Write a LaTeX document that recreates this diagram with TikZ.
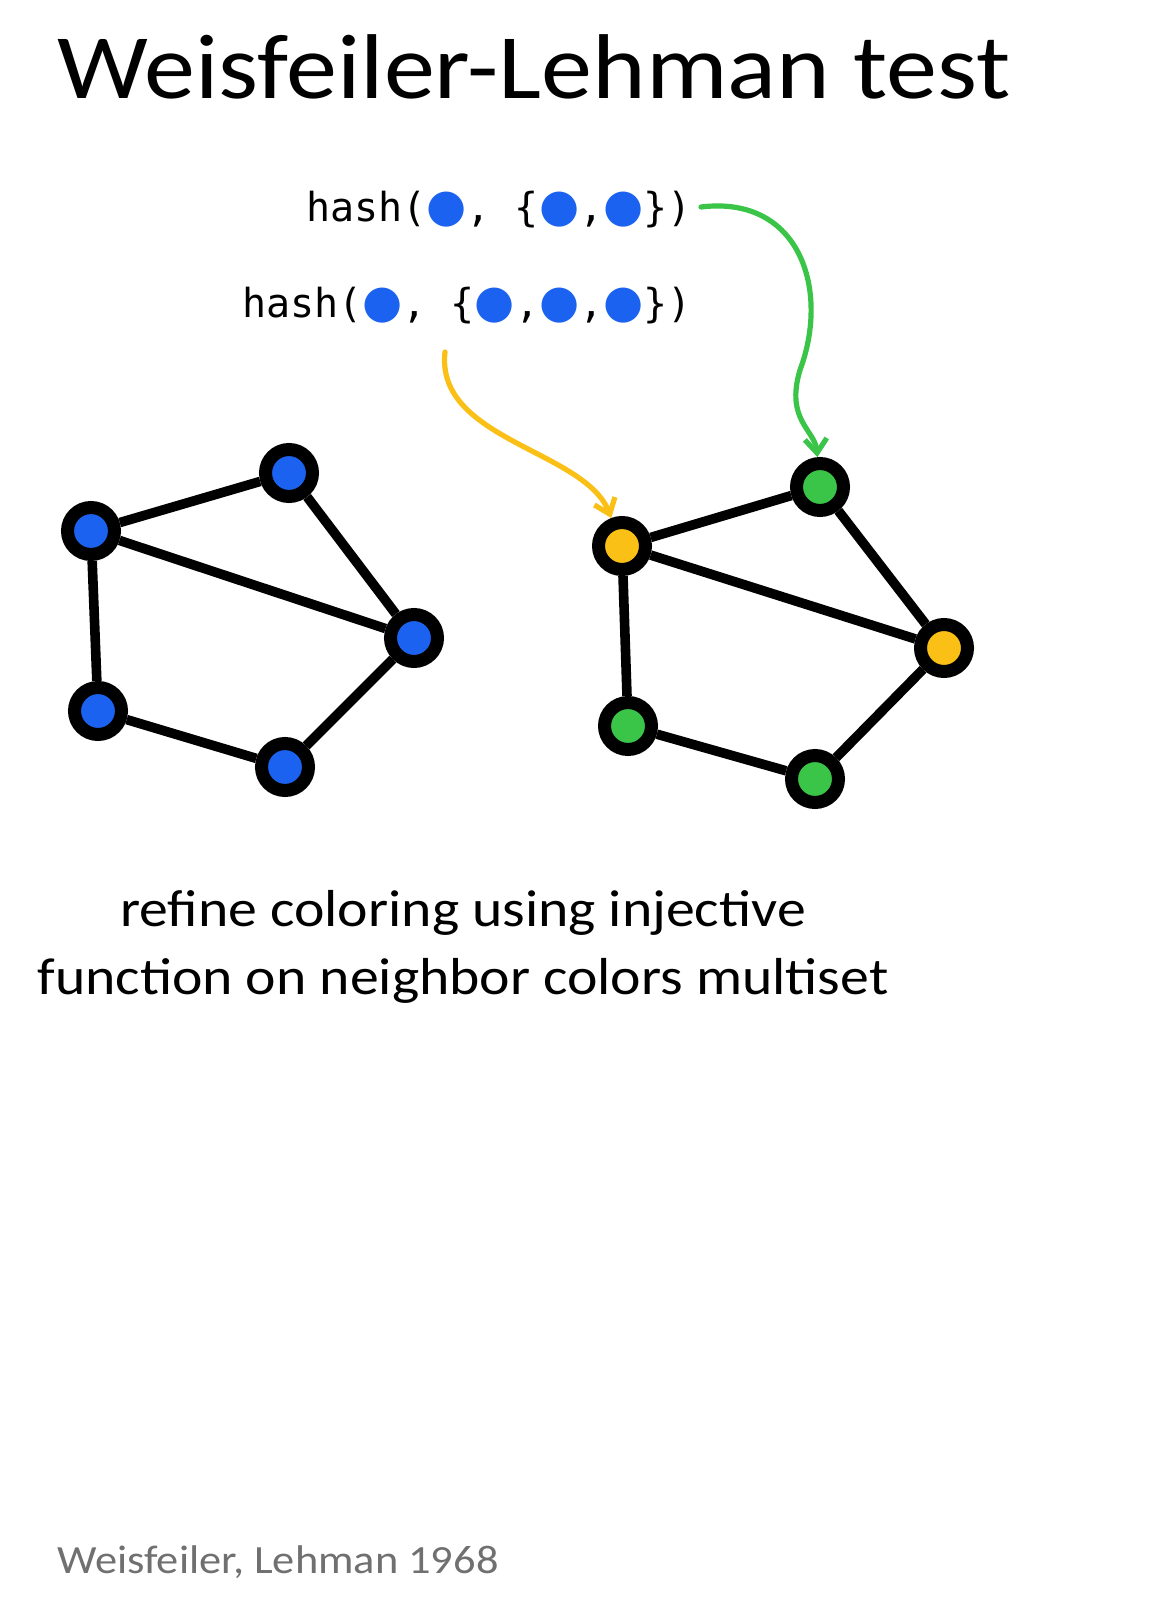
\documentclass[tikz,border=0pt]{standalone}
\usepackage{fontspec}
\setmainfont[FakeStretch=1.11]{Carlito}
\newfontfamily\handfont{DejaVu Sans Mono}
\newfontfamily\symfont{DejaVu Sans}
\usetikzlibrary{arrows.meta}
\definecolor{wlBlue}{RGB}{28,98,240}
\definecolor{wlGreen}{RGB}{58,196,72}
\definecolor{wlYellow}{RGB}{250,192,22}
\definecolor{wlGray}{RGB}{112,112,112}
\newcommand{\bdot}{{\symfont\fontsize{23}{23}\selectfont\textcolor{wlBlue}{●}}}

\begin{document}
\begin{tikzpicture}[
    x=0.5pt, y=-0.5pt,
    vtx/.style={circle, draw=black, line width=6.5pt, minimum size=23.5pt, inner sep=0pt},
    bv/.style={vtx, fill=wlBlue},
    gv/.style={vtx, fill=wlGreen},
    yv/.style={vtx, fill=wlYellow},
    edge/.style={line width=4.8pt},
    harr/.style={-{Straight Barb[length=7pt, width=11pt]}, line width=2.6pt, line cap=round},
  ]
    \useasboundingbox[fill=white] (0,0) rectangle (1162,1598);

    % title
    \node[anchor=base west, inner sep=0pt, font=\fontsize{46}{50}\selectfont] (title) at (57,99) {Weisfeiler-Lehman test};

    % hash expressions
    \node[anchor=base east, inner sep=0pt, font=\handfont\fontsize{20}{24}\selectfont] (h1) at (692,222) {hash(\bdot, \{\bdot,\bdot\})};
    \node[anchor=base east, inner sep=0pt, font=\handfont\fontsize{20}{24}\selectfont] (h2) at (692,318) {hash(\bdot, \{\bdot,\bdot,\bdot\})};

    % input graph
    \node[bv] (a) at (91,531) {};
    \node[bv] (b) at (289,473) {};
    \node[bv] (c) at (414,638) {};
    \node[bv] (d) at (98,711) {};
    \node[bv] (e) at (285,767) {};
    \draw[edge] (a) -- (b) (a) -- (c) (b) -- (c) (a) -- (d) (d) -- (e) (e) -- (c);

    % refined graph
    \node[yv] (a2) at (622,546) {};
    \node[gv] (b2) at (820,487) {};
    \node[yv] (c2) at (944,648) {};
    \node[gv] (d2) at (628,726) {};
    \node[gv] (e2) at (815,779) {};
    \draw[edge] (a2) -- (b2) (a2) -- (c2) (b2) -- (c2) (a2) -- (d2) (d2) -- (e2) (e2) -- (c2);

    % arrows from hashes to nodes
    \coordinate (ys) at (445,352);
    \coordinate (gs) at (701,207);
    \draw[harr, wlYellow] (ys) .. controls (435,440) and (585,450) .. (a2);
    \draw[harr, wlGreen] (gs) .. controls (800,195) and (830,290) .. (800,370)
                          .. controls (785,420) and (815,430) .. (b2);

    % caption
    \node[align=center, inner sep=0pt, font=\fontsize{26}{34}\selectfont] (cap) at (463,947)
      {refine coloring using injective\\function on neighbor colors multiset};

    % reference
    \node[anchor=base west, inner sep=0pt, text=wlGray, font=\fontsize{20}{24}\selectfont] (ref) at (57,1573) {Weisfeiler, Lehman 1968};
  \end{tikzpicture}
\end{document}
